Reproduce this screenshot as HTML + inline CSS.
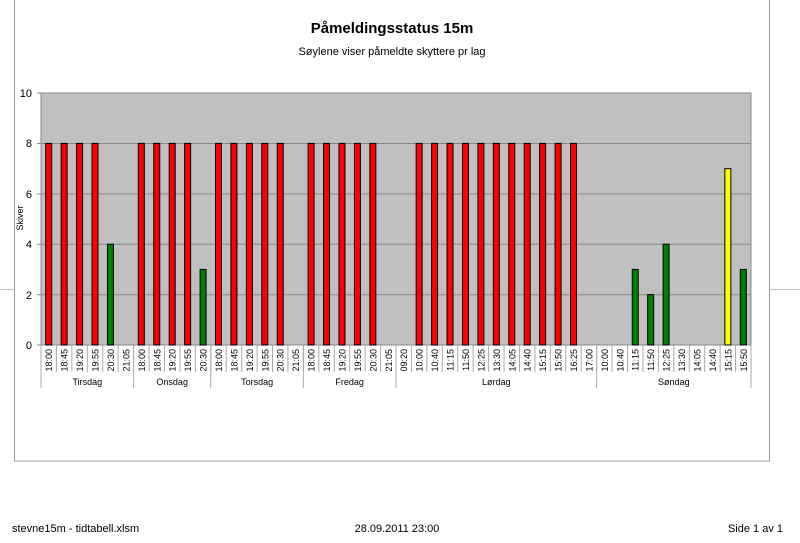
<!DOCTYPE html>
<html><head><meta charset="utf-8"><style>
body{margin:0;background:#fff;width:800px;height:538px;overflow:hidden;font-family:"Liberation Sans",sans-serif}
</style></head><body>
<svg width="800" height="538" xmlns="http://www.w3.org/2000/svg" font-family="Liberation Sans, sans-serif">
<rect x="14.5" y="-1" width="755" height="462" fill="#fff" stroke="#999"/>
<line x1="0" y1="289.5" x2="14" y2="289.5" stroke="#bbb"/>
<line x1="770" y1="289.5" x2="800" y2="289.5" stroke="#bbb"/>
<text x="392" y="33" text-anchor="middle" font-size="15" font-weight="bold">Påmeldingsstatus 15m</text>
<text x="392" y="55" text-anchor="middle" font-size="11">Søylene viser påmeldte skyttere pr lag</text>
<rect x="41" y="93" width="710" height="252" fill="#c0c0c0" stroke="#888"/>
<g stroke="#888" stroke-width="1">
<line x1="41" y1="143.5" x2="751" y2="143.5"/>
<line x1="41" y1="193.9" x2="751" y2="193.9"/>
<line x1="41" y1="244.3" x2="751" y2="244.3"/>
<line x1="41" y1="294.7" x2="751" y2="294.7"/>
<line x1="37" y1="93" x2="41" y2="93"/><line x1="37" y1="143.5" x2="41" y2="143.5"/><line x1="37" y1="193.9" x2="41" y2="193.9"/><line x1="37" y1="244.3" x2="41" y2="244.3"/><line x1="37" y1="294.7" x2="41" y2="294.7"/><line x1="37" y1="345" x2="41" y2="345"/>
</g>
<g font-size="11" text-anchor="end">
<text x="32" y="97">10</text><text x="32" y="147">8</text><text x="32" y="198">6</text><text x="32" y="248">4</text><text x="32" y="299">2</text><text x="32" y="349">0</text>
</g>
<text transform="translate(23,218) rotate(-90)" font-size="9" text-anchor="middle">Skiver</text>
<g id="bars"></g>
<g id="labels"></g>
<script>
var days=[["Tirsdag",["18:00","18:45","19:20","19:55","20:30","21:05"],[8,8,8,8,4,0]],
["Onsdag",["18:00","18:45","19:20","19:55","20:30"],[8,8,8,8,3]],
["Torsdag",["18:00","18:45","19:20","19:55","20:30","21:05"],[8,8,8,8,8,0]],
["Fredag",["18:00","18:45","19:20","19:55","20:30","21:05"],[8,8,8,8,8,0]],
["Lørdag",["09:20","10:00","10:40","11:15","11:50","12:25","13:30","14:05","14:40","15:15","15:50","16:25","17:00"],[0,8,8,8,8,8,8,8,8,8,8,8,0]],
["Søndag",["10:00","10:40","11:15","11:50","12:25","13:30","14:05","14:40","15:15","15:50"],[0,0,3,2,4,0,0,0,7,3]]];
var NS="http://www.w3.org/2000/svg",b=document.getElementById("bars"),l=document.getElementById("labels");
var w=710/46,i=0;
function el(t,a,p,txt){var e=document.createElementNS(NS,t);for(var k in a)e.setAttribute(k,a[k]);if(txt)e.textContent=txt;p.appendChild(e);}
el("line",{x1:41,y1:345,x2:41,y2:388,stroke:"#aaa"},l);
days.forEach(function(d){var s=i;d[1].forEach(function(t,j){var cx=41+(i+0.5)*w,v=d[2][j];
if(v>0){var c=v>=8?"#ff0000":(v==7?"#ffff00":"#008000");var h=v*25.2;el("rect",{x:cx-3,y:345-h,width:6,height:h,fill:c,stroke:"#000","stroke-width":1},b);}
el("text",{transform:"translate("+(cx+3.5)+",349) rotate(-90)","font-size":"9","text-anchor":"end"},l,t);
i++;el("line",{x1:41+i*w,y1:345,x2:41+i*w,y2:372,stroke:"#aaa"},l);});
el("line",{x1:41+i*w,y1:345,x2:41+i*w,y2:388,stroke:"#aaa"},l);
el("text",{x:41+(s+i)/2*w,y:385,"font-size":"9","text-anchor":"middle"},l,d[0]);});
</script>
<g font-size="11">
<text x="12" y="532">stevne15m - tidtabell.xlsm</text>
<text x="397" y="532" text-anchor="middle">28.09.2011 23:00</text>
<text x="783" y="532" text-anchor="end">Side 1 av 1</text>
</g>
</svg>
</body></html>
